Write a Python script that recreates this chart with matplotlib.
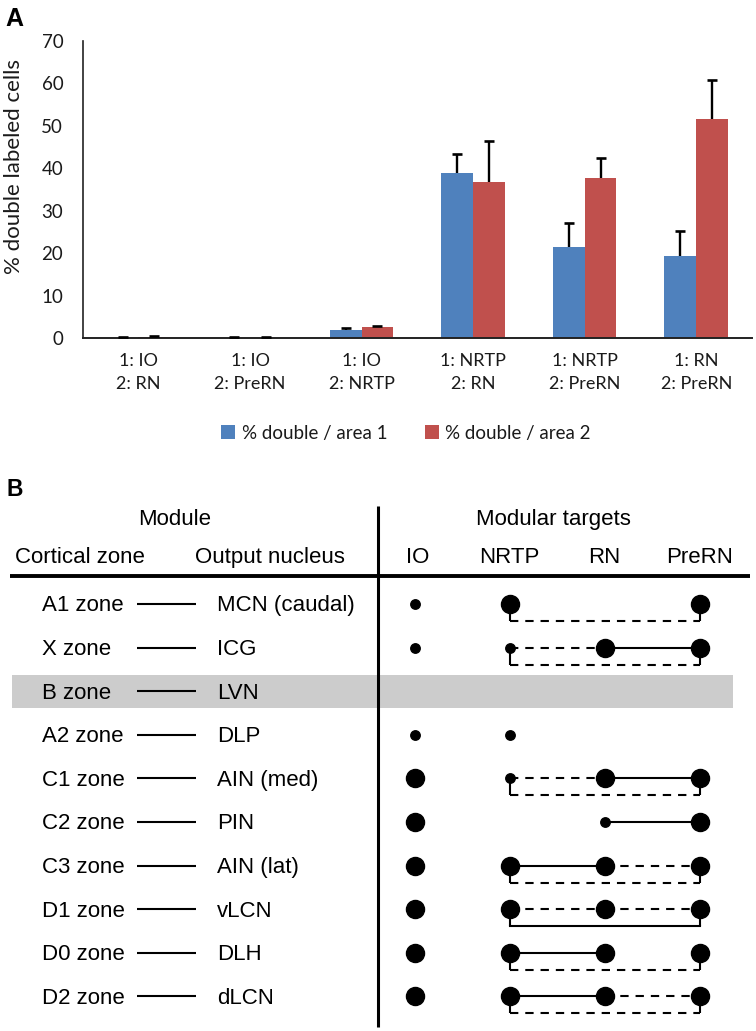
import matplotlib
matplotlib.use("Agg")
import matplotlib.pyplot as plt
from matplotlib import font_manager
from matplotlib.patches import Patch
import numpy as np

# ---------------- data: panel A ----------------
categories = ['1: IO\n2: RN', '1: IO\n2: PreRN', '1: IO\n2: NRTP',
              '1: NRTP\n2: RN', '1: NRTP\n2: PreRN', '1: RN\n2: PreRN']
area1 = [0.05, 0.02, 1.9, 38.8, 21.4, 19.3]
area1_err = [0.25, 0.1, 0.5, 4.6, 5.8, 6.0]
area2 = [0.2, 0.05, 2.5, 36.8, 37.6, 51.7]
area2_err = [0.35, 0.25, 0.4, 9.7, 4.8, 9.0]
series_labels = ['% double / area 1', '% double / area 2']
y_ticks = [0, 10, 20, 30, 40, 50, 60, 70]

# ---------------- data: panel B ----------------
zones = ['A1 zone', 'X zone', 'B zone', 'A2 zone', 'C1 zone',
         'C2 zone', 'C3 zone', 'D1 zone', 'D0 zone', 'D2 zone']
nuclei = ['MCN (caudal)', 'ICG', 'LVN', 'DLP', 'AIN (med)',
          'PIN', 'AIN (lat)', 'vLCN', 'DLH', 'dLCN']
targets = ['IO', 'NRTP', 'RN', 'PreRN']
# dot size per target: 0 none, 1 small, 2 large
dots = [
    [1, 2, 0, 2],
    [1, 1, 2, 2],
    [0, 0, 0, 0],
    [1, 1, 0, 0],
    [2, 1, 2, 2],
    [2, 0, 1, 2],
    [2, 2, 2, 2],
    [2, 2, 2, 2],
    [2, 2, 2, 2],
    [2, 2, 2, 2],
]
link_nrtp_rn = ['', '--', '', '', '--', '', '-', '--', '-', '-']
link_rn_prern = ['', '-', '', '', '-', '-', '--', '--', '', '--']
bracket_nrtp_prern = ['--', '--', '', '', '--', '', '--', '-', '--', '--']
shaded_rows = ['B zone']

# ---------------- fonts ----------------
avail = {f.name for f in font_manager.fontManager.ttflist}
fontA = 'Lato' if 'Lato' in avail else 'DejaVu Sans'
fontB = 'Liberation Sans' if 'Liberation Sans' in avail else 'DejaVu Sans'
plt.rcParams['lines.scale_dashes'] = False

W, H = 756, 1031
fig = plt.figure(figsize=(W / 100, H / 100), dpi=100)

# ---------------- panel A ----------------
blue = '#4F81BD'
red = '#C0504D'
txt = '#1a1a1a'
axA = fig.add_axes([82.7 / W, 1 - 338 / H, (752 - 82.7) / W, (338 - 41) / H])
x = np.arange(len(categories))
bw = 0.285
axA.bar(x - bw / 2, area1, bw, color=blue, zorder=2)
axA.bar(x + bw / 2, area2, bw, color=red, zorder=2)
for xs, vals, errs in [(x - bw / 2, area1, area1_err), (x + bw / 2, area2, area2_err)]:
    tops = np.array(vals) + np.array(errs)
    axA.vlines(xs, vals, tops, color='black', lw=1.7, zorder=3)
    axA.plot(xs, tops, linestyle='none', marker='_', markersize=7.5,
             markeredgewidth=1.9, color='black', zorder=3)
axA.set_xlim(-0.5, len(categories) - 0.5)
axA.set_ylim(0, 70)
axA.set_yticks(y_ticks)
axA.set_xticks(x)
axA.set_xticklabels(categories, fontsize=13, family=fontA, color=txt,
                    linespacing=1.5)
for lab in axA.get_yticklabels():
    lab.set_fontsize(13.5)
    lab.set_family(fontA)
    lab.set_color(txt)
axA.tick_params(axis='y', length=0, pad=14)
axA.tick_params(axis='x', length=0, pad=11)
for s in ['top', 'right']:
    axA.spines[s].set_visible(False)
axA.spines['left'].set_linewidth(1.2)
axA.spines['bottom'].set_linewidth(1.4)
axA.spines['left'].set_color('#222222')
axA.spines['bottom'].set_color('#222222')
fig.text(14 / W, 1 - 166 / H, '% double labeled cells', rotation=90,
         ha='center', va='center', fontsize=16, family=fontA, color=txt)
fig.text(5 / W, 1 - 26 / H, 'A', fontsize=18, fontweight='bold',
         family=fontB, ha='left', va='baseline')
handles = [Patch(facecolor=blue), Patch(facecolor=red)]
fig.legend(handles, series_labels, loc='center',
           bbox_to_anchor=(406 / W, 1 - 433 / H), ncol=2, frameon=False,
           handlelength=0.75, handleheight=0.75, handletextpad=0.35,
           columnspacing=2.0, prop={'family': fontA, 'size': 13.5},
           labelcolor=txt)

# ---------------- panel B ----------------
# data coords: x = target column index (IO=0 ...), y = row index
col_px = 95.0
io_px = 414.5
row0_px = 604.0
row_px = 43.6
top_px = 475.0
axB = fig.add_axes([0, 0, 1, 1 - top_px / H])
axB.set_xlim(-io_px / col_px, (W - io_px) / col_px)
axB.set_ylim((H - row0_px) / row_px, (top_px - row0_px) / row_px)
axB.axis('off')


def px2x(px):
    return (px - io_px) / col_px


def px2y(py):
    return (py - row0_px) / row_px


fsB = 16
base = 0.172  # baseline offset below row centre (rows)

fig.text(6 / W, 1 - 496 / H, 'B', fontsize=16.5, fontweight='bold',
         family=fontB, ha='left', va='baseline')

axB.text(px2x(175), px2y(525), 'Module', ha='center', va='baseline',
         fontsize=fsB, family=fontB)
axB.text(px2x(553), px2y(525), 'Modular targets', ha='center', va='baseline',
         fontsize=fsB, family=fontB)
axB.text(px2x(80), px2y(563), 'Cortical zone', ha='center', va='baseline',
         fontsize=fsB, family=fontB)
axB.text(px2x(270), px2y(563), 'Output nucleus', ha='center', va='baseline',
         fontsize=fsB, family=fontB)
for j, t in enumerate(targets):
    axB.text(j + (3 if j == 0 else 0) / col_px, px2y(563), t, ha='center',
             va='baseline', fontsize=fsB, family=fontB)

# header rule and vertical divider
axB.plot([px2x(10), px2x(750)], [px2y(576), px2y(576)], color='black',
         lw=2.8, solid_capstyle='butt', zorder=4)
axB.plot([px2x(378), px2x(378)], [px2y(506), px2y(1027)], color='black',
         lw=2.2, solid_capstyle='butt', zorder=4)

big_ms = 13.0
small_ms = 6.8
brk = 0.39
lw_link = 1.5
dash = (0, (6.0, 5.0))


def style(s):
    return '-' if s == '-' else dash


for i, (z, n) in enumerate(zip(zones, nuclei)):
    if z in shaded_rows:
        axB.axhspan(i - 0.38, i + 0.38, xmin=12 / W, xmax=733 / W,
                    color='#cccccc', lw=0, zorder=0)
    axB.text(px2x(42), i + base, z, ha='left', va='baseline', fontsize=fsB,
             family=fontB, zorder=3)
    axB.plot([px2x(137), px2x(196)], [i, i], color='black', lw=1.5,
             solid_capstyle='butt', zorder=3)
    axB.text(px2x(217), i + base, n, ha='left', va='baseline', fontsize=fsB,
             family=fontB, zorder=3)

    # links
    if link_nrtp_rn[i]:
        axB.plot([1, 2], [i, i], color='black', lw=lw_link,
                 linestyle=style(link_nrtp_rn[i]), zorder=2)
    if link_rn_prern[i]:
        axB.plot([2, 3], [i, i], color='black', lw=lw_link,
                 linestyle=style(link_rn_prern[i]), zorder=2)
    if bracket_nrtp_prern[i]:
        axB.plot([1, 1], [i, i + brk], color='black', lw=lw_link, zorder=2,
                 solid_capstyle='butt')
        axB.plot([3, 3], [i, i + brk], color='black', lw=lw_link, zorder=2,
                 solid_capstyle='butt')
        axB.plot([1, 3], [i + brk, i + brk], color='black', lw=lw_link,
                 linestyle=style(bracket_nrtp_prern[i]), zorder=2)
    for j, d in enumerate(dots[i]):
        if d:
            axB.plot(j, i, 'o', color='black',
                     markersize=big_ms if d == 2 else small_ms, zorder=5)

fig.savefig('out.png', dpi=100)
